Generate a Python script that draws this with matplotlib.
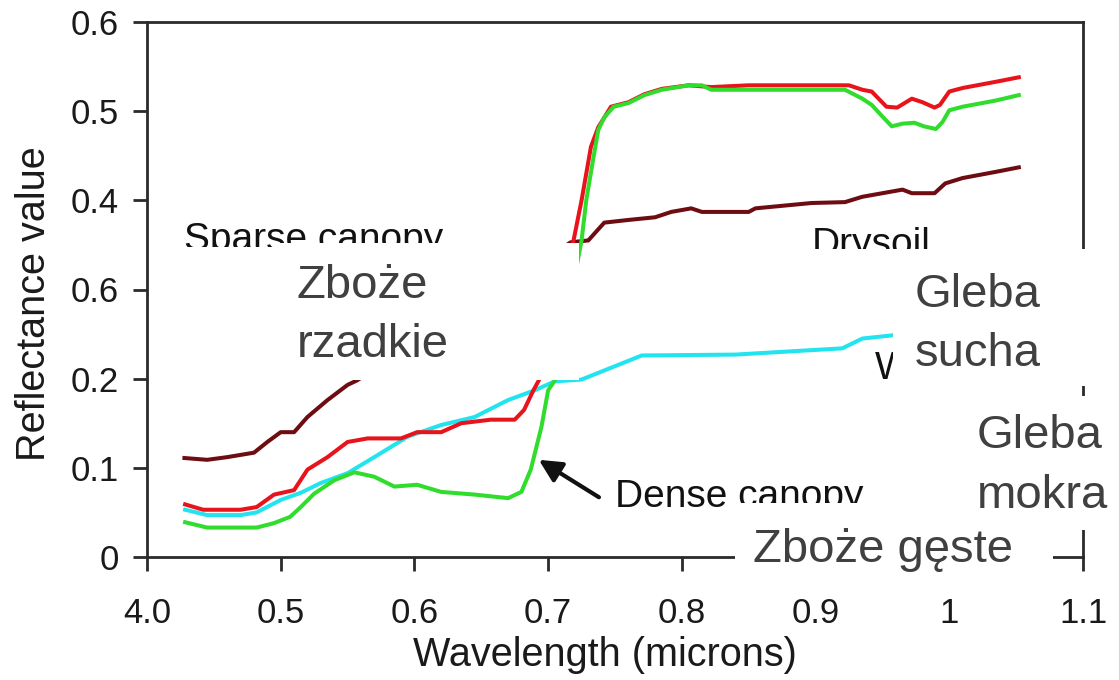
import matplotlib
matplotlib.use("Agg")
import matplotlib.pyplot as plt
from matplotlib.patches import Rectangle

plt.rcParams['font.family'] = ['Liberation Sans', 'DejaVu Sans']

# ---- spectral reflectance curves (wavelength in microns, reflectance) ----
dry_soil_wl = [0.428, 0.445, 0.46, 0.48, 0.49, 0.50, 0.51, 0.52, 0.535, 0.55, 0.557,
               0.717, 0.73, 0.742, 0.76, 0.78, 0.792, 0.807, 0.815, 0.85, 0.855, 0.897,
               0.922, 0.935, 0.95, 0.965, 0.972, 0.989, 0.997, 1.01, 1.035, 1.052]
dry_soil_r = [0.111, 0.109, 0.112, 0.117, 0.129, 0.140, 0.140, 0.157, 0.176, 0.193, 0.198,
              0.353, 0.355, 0.375, 0.378, 0.381, 0.387, 0.391, 0.387, 0.387, 0.391, 0.397,
              0.398, 0.404, 0.408, 0.412, 0.408, 0.408, 0.419, 0.425, 0.432, 0.437]

sparse_wl = [0.4285, 0.442, 0.47, 0.482, 0.495, 0.51, 0.52, 0.535, 0.55, 0.565, 0.59,
             0.602, 0.62, 0.635, 0.657, 0.675, 0.682, 0.689, 0.693,
             0.719, 0.725, 0.732, 0.7375, 0.747, 0.76, 0.772, 0.785, 0.805, 0.822,
             0.85, 0.925, 0.935, 0.942, 0.953, 0.961, 0.972, 0.98, 0.989, 0.993,
             1.0, 1.01, 1.035, 1.052]
sparse_r = [0.059, 0.053, 0.053, 0.056, 0.070, 0.075, 0.098, 0.112, 0.129, 0.133, 0.133,
            0.140, 0.140, 0.150, 0.154, 0.154, 0.165, 0.187, 0.198,
            0.355, 0.400, 0.460, 0.482, 0.505, 0.510, 0.519, 0.525, 0.529, 0.527,
            0.529, 0.529, 0.524, 0.522, 0.505, 0.504, 0.514, 0.510, 0.504, 0.507,
            0.522, 0.526, 0.533, 0.538]

dense_wl = [0.4285, 0.445, 0.482, 0.495, 0.507, 0.515, 0.525, 0.54, 0.555, 0.57, 0.585,
            0.602, 0.62, 0.645, 0.67, 0.68, 0.687, 0.695, 0.70, 0.705,
            0.725, 0.7285, 0.734, 0.7375, 0.742, 0.749, 0.76, 0.772, 0.785, 0.805,
            0.815, 0.822, 0.922, 0.935, 0.942, 0.95, 0.957, 0.965, 0.974, 0.981,
            0.99, 0.995, 1.0, 1.01, 1.035, 1.052]
dense_r = [0.039, 0.033, 0.033, 0.038, 0.045, 0.056, 0.071, 0.086, 0.095, 0.090, 0.079,
           0.081, 0.073, 0.070, 0.066, 0.073, 0.098, 0.146, 0.187, 0.198,
           0.355, 0.400, 0.449, 0.479, 0.493, 0.505, 0.509, 0.518, 0.524, 0.529,
           0.529, 0.524, 0.524, 0.514, 0.507, 0.494, 0.483, 0.486, 0.487, 0.483,
           0.480, 0.488, 0.501, 0.505, 0.512, 0.518]

wet_soil_wl = [0.4285, 0.445, 0.47, 0.482, 0.50, 0.515, 0.53, 0.55, 0.57, 0.595, 0.62,
               0.645, 0.67, 0.69, 0.705, 0.725, 0.77, 0.84, 0.92, 0.935, 0.96]
wet_soil_r = [0.053, 0.047, 0.047, 0.050, 0.064, 0.072, 0.083, 0.094, 0.112, 0.135, 0.148,
              0.157, 0.176, 0.187, 0.197, 0.199, 0.226, 0.227, 0.234, 0.245, 0.249]

x_ticks = [0.4, 0.5, 0.6, 0.7, 0.8, 0.9, 1.0, 1.1]
x_tick_labels = ['4.0', '0.5', '0.6', '0.7', '0.8', '0.9', '1', '1.1']
y_ticks = [0.0, 0.1, 0.2, 0.3, 0.4, 0.5, 0.6]
y_tick_labels = ['0', '0.1', '0.2', '0.6', '0.4', '0.5', '0.6']

# ---- figure ----
W, H = 1119, 680
fig = plt.figure(figsize=(W / 100, H / 100), dpi=100)
ax = fig.add_axes([147 / W, 1 - 557 / H, (1083 - 147) / W, (557 - 22) / H])

lw = 2.9
ax.plot(dry_soil_wl, dry_soil_r, color='#6d0d12', lw=lw, zorder=2)
ax.plot(wet_soil_wl, wet_soil_r, color='#22e4ee', lw=lw, zorder=2)
ax.plot(sparse_wl, sparse_r, color='#e8141c', lw=lw, zorder=2)
ax.plot(dense_wl, dense_r, color='#30dc2c', lw=lw, zorder=3)

ax.set_xlim(0.4, 1.1)
ax.set_ylim(0.0, 0.6)
ax.set_xticks(x_ticks)
ax.set_xticklabels(x_tick_labels)
ax.set_yticks(y_ticks)
ax.set_yticklabels(y_tick_labels)

for s in ax.spines.values():
    s.set_color('#2a2a2a')
    s.set_linewidth(2.0)
ax.tick_params(axis='both', direction='out', length=10, width=2.0,
               color='#2a2a2a', labelsize=25, labelcolor='#1a1a1a')
ax.tick_params(axis='y', pad=10)
ax.tick_params(axis='x', pad=19)

ax.set_xlabel('Wavelength (microns)', fontsize=28.5, color='#1a1a1a')
ax.xaxis.set_label_coords(0.489, -0.147)
ax.set_ylabel('Reflectance value', fontsize=28.5, color='#1a1a1a')
ax.yaxis.set_label_coords(-0.100, 0.473)

# curve labels
lab = dict(fontsize=28, color='#111111', va='baseline', ha='left', zorder=4)
ax.text(0.4278, 0.344, 'Sparse canopy', **lab)
ax.text(0.8973, 0.339, 'Drysoil', **lab)
wet = ax.text(0.9445, 0.1996, 'Wet soil', **lab)
wet.set_clip_path(Rectangle((0, 0), 893 / W, 1, transform=fig.transFigure))
ax.text(0.7503, 0.0561, 'Dense canopy', **lab)
ax.annotate('', xy=(0.693, 0.109), xytext=(0.738, 0.067),
            arrowprops=dict(arrowstyle='-|>', lw=3, color='#111111',
                            mutation_scale=34, shrinkA=0, shrinkB=0))

# white caption panels with Polish names
def panel(x0, y0, x1, y1):
    fig.add_artist(Rectangle((x0 / W, 1 - y1 / H), (x1 - x0) / W, (y1 - y0) / H,
                             transform=fig.transFigure, facecolor='white',
                             edgecolor='none', zorder=10))

panel(175, 247, 275, 330)
panel(275, 243, 579, 380)
panel(582, 249, 893, 326)
panel(893, 249, 1095, 386)
panel(962, 396, 1119, 530)
panel(735, 503, 1053, 578)

def caption(px, py, s):
    fig.text(px / W, 1 - py / H, s, fontsize=34, color='#404040',
             ha='left', va='baseline', zorder=11)

caption(297, 298, 'Zboże')
caption(297, 357, 'rzadkie')
caption(915, 307, 'Gleba')
caption(915, 366, 'sucha')
caption(977, 448, 'Gleba')
caption(977, 508, 'mokra')
caption(753, 562, 'Zboże gęste')

fig.savefig('out.png', dpi=100, facecolor='white')
